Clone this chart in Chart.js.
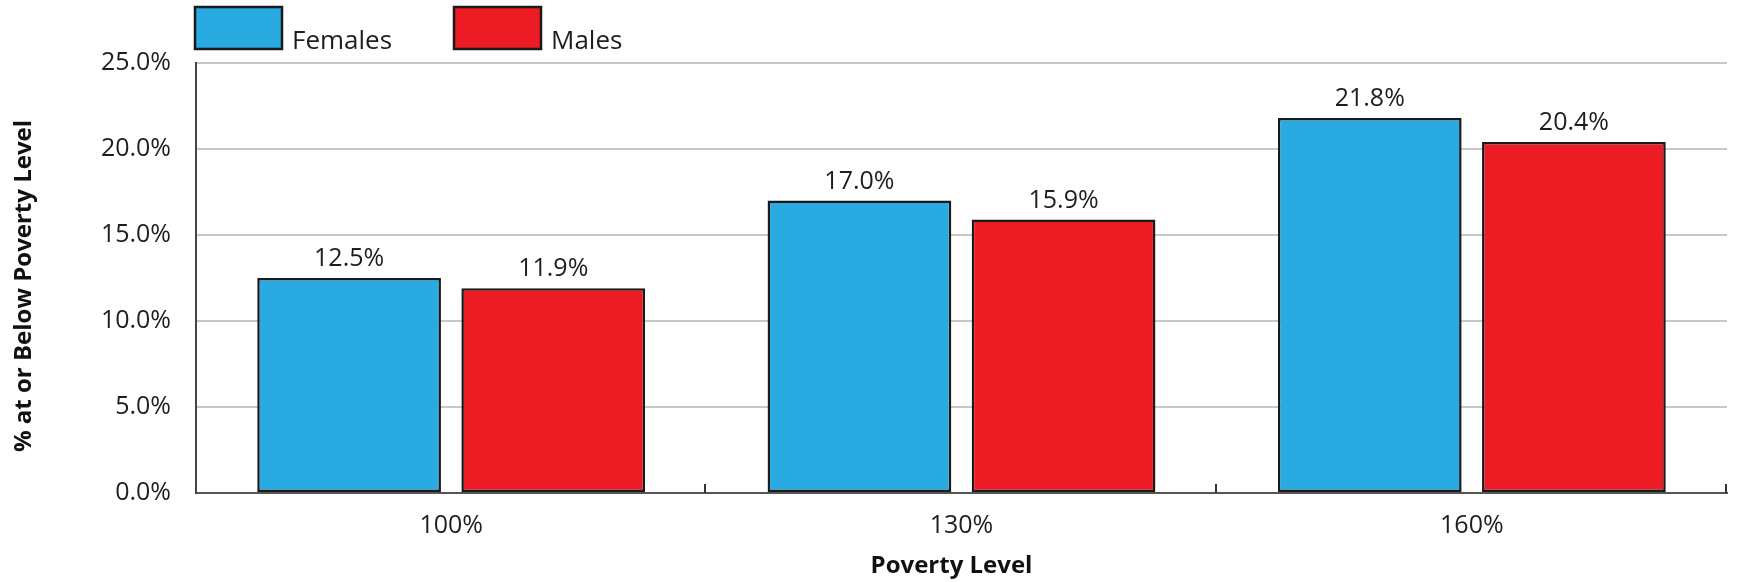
<!DOCTYPE html>
<html>
<head>
<meta charset="utf-8">
<script src="https://cdn.jsdelivr.net/npm/chart.js@4"></script>
<style>
  html, body { margin: 0; padding: 0; background: #fff; }
  #chart { display: block; }
</style>
</head>
<body>
<canvas id="chart" width="1739" height="582"></canvas>
<script>
const categories = ['100%', '130%', '160%'];
const females = [12.5, 17.0, 21.8];
const males = [11.9, 15.9, 20.4];
const seriesNames = ['Females', 'Males'];
const seriesColors = ['#29abe2', '#ed1c24'];
const yTitle = '% at or Below Poverty Level';
const xTitle = 'Poverty Level';

const FONT = "'Open Sans', sans-serif";

// value labels over each bar
const valueLabels = {
  id: 'valueLabels',
  afterDatasetsDraw(chart) {
    const ctx = chart.ctx;
    ctx.save();
    ctx.font = '25px ' + FONT;
    ctx.fillStyle = '#1e1e1e';
    ctx.textAlign = 'center';
    ctx.textBaseline = 'alphabetic';
    chart.data.datasets.forEach((ds, i) => {
      chart.getDatasetMeta(i).data.forEach((bar, j) => {
        ctx.fillText(ds.data[j].toFixed(1) + '%', bar.x, bar.y - 12);
      });
    });
    ctx.restore();
  }
};

// small upward ticks on the x axis between categories
const xTicks = {
  id: 'xTicks',
  afterDraw(chart) {
    const x = chart.scales.x;
    const ctx = chart.ctx;
    const step = (x.right - x.left) / categories.length;
    ctx.save();
    ctx.strokeStyle = '#333';
    ctx.lineWidth = 2;
    for (let i = 1; i <= categories.length; i++) {
      const px = Math.round(x.left + step * i) - 1;
      ctx.beginPath();
      ctx.moveTo(px, x.top);
      ctx.lineTo(px, x.top - 9);
      ctx.stroke();
    }
    ctx.restore();
  }
};

// legend drawn like the original (label sitting at the box bottom),
// and both axis titles, which sit a little off the plot centre
const extras = {
  id: 'extras',
  afterDraw(chart) {
    const ctx = chart.ctx;
    const ca = chart.chartArea;
    const left = ca.left - 1;
    ctx.save();
    ctx.font = '26px ' + FONT;
    ctx.textBaseline = 'alphabetic';
    seriesNames.forEach((name, i) => {
      const bx = left + i * 259;
      ctx.fillStyle = seriesColors[i];
      ctx.fillRect(bx, 7, 87, 42);
      ctx.strokeStyle = '#1a1a1a';
      ctx.lineWidth = 2.5;
      ctx.strokeRect(bx, 7, 87, 42);
      ctx.fillStyle = '#1e1e1e';
      ctx.fillText(name, bx + 97, 49);
    });

    ctx.font = 'bold 24px ' + FONT;
    ctx.fillStyle = '#111';
    ctx.textAlign = 'center';
    ctx.textBaseline = 'middle';
    ctx.fillText(xTitle, (ca.left + ca.right) / 2 - 10, 566);

    ctx.translate(24, (ca.top + ca.bottom) / 2 + 8);
    ctx.rotate(-Math.PI / 2);
    ctx.fillText(yTitle, 0, 0);
    ctx.restore();
  }
};

new Chart(document.getElementById('chart'), {
  type: 'bar',
  data: {
    labels: categories,
    datasets: [
      { label: seriesNames[0], data: females, backgroundColor: seriesColors[0] },
      { label: seriesNames[1], data: males, backgroundColor: seriesColors[1] }
    ]
  },
  options: {
    responsive: false,
    animation: false,
    devicePixelRatio: 1,
    layout: { padding: { top: 63, right: 12, left: 0, bottom: 0 } },
    datasets: {
      bar: {
        categoryPercentage: 0.8,
        barPercentage: 0.9,
        borderColor: '#1a1a1a',
        borderWidth: 2.5,
        borderSkipped: false
      }
    },
    plugins: {
      legend: { display: false },
      tooltip: { enabled: false }
    },
    scales: {
      x: {
        grid: { display: false, drawTicks: false },
        border: { display: true, color: '#555', width: 2 },
        ticks: { color: '#1e1e1e', font: { family: FONT, size: 25 }, padding: 18 },
        afterFit(scale) { scale.height = 89; }
      },
      y: {
        min: 0,
        max: 25,
        ticks: {
          stepSize: 5,
          color: '#1e1e1e',
          font: { family: FONT, size: 25 },
          padding: 25,
          callback: v => v.toFixed(1) + '%'
        },
        grid: { color: '#c8c8c8', lineWidth: 2, drawTicks: false },
        border: { display: true, color: '#444', width: 2 },
        afterFit(scale) { scale.width = 196; }
      }
    }
  },
  plugins: [valueLabels, xTicks, extras]
});
</script>
</body>
</html>
